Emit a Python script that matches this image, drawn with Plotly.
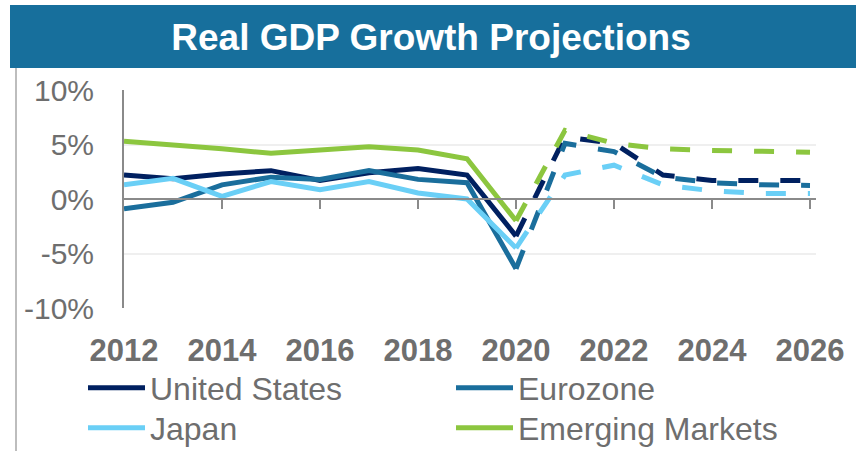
import plotly.graph_objects as go

# ---------------- data ----------------
years = [2012, 2013, 2014, 2015, 2016, 2017, 2018, 2019, 2020, 2021, 2022, 2023, 2024, 2025, 2026]
united_states = [2.2, 1.85, 2.3, 2.6, 1.7, 2.4, 2.8, 2.2, -3.4, 5.7, 5.1, 2.2, 1.7, 1.7, 1.7]
eurozone = [-0.9, -0.3, 1.3, 2.0, 1.8, 2.6, 1.8, 1.5, -6.4, 5.1, 4.35, 2.0, 1.5, 1.3, 1.25]
japan = [1.3, 1.9, 0.25, 1.6, 0.85, 1.6, 0.55, 0.0, -4.5, 2.2, 3.1, 1.3, 0.75, 0.5, 0.5]
emerging_markets = [5.3, 5.0, 4.6, 4.2, 4.5, 4.8, 4.5, 3.7, -2.0, 6.3, 5.1, 4.6, 4.45, 4.35, 4.3]
projection_start = 2020

series_names = ["United States", "Eurozone", "Japan", "Emerging Markets"]
series_values = [united_states, eurozone, japan, emerging_markets]
series_colors = ["#002060", "#1a6e9c", "#6acff6", "#8cc63f"]
legend_rows = ["legend", "legend", "legend2", "legend2"]

x_tick_vals = [2012, 2014, 2016, 2018, 2020, 2022, 2024, 2026]
x_tick_text = ["2012", "2014", "2016", "2018", "2020", "2022", "2024", "2026"]
y_tick_vals = [-10, -5, 0, 5, 10]
y_tick_text = ["-10%", "-5%", "0%", "5%", "10%"]
title_text = "Real GDP Growth Projections"

# ---------------- figure ----------------
W, H = 862, 451
fig = go.Figure()

split = years.index(projection_start)
for name, vals, col, lg in zip(series_names, series_values, series_colors, legend_rows):
    fig.add_trace(go.Scatter(
        x=years[:split + 1], y=vals[:split + 1], mode="lines", name=name,
        legendgroup=name, legend=lg, line=dict(color=col, width=5),
    ))
    fig.add_trace(go.Scatter(
        x=years[split:], y=vals[split:], mode="lines", name=name,
        legendgroup=name, legend=lg, showlegend=False,
        line=dict(color=col, width=5, dash="20px,22px"),
    ))

x_left, x_right, y_top, y_bot = 124, 816, 90, 308
xdom = [x_left / W, x_right / W]
ydom = [1 - y_bot / H, 1 - y_top / H]
xrange = [2012, 2012 + (x_right - x_left) / 49.0]

grey = "#6e6e6e"
axis_grey = "#8a8a8a"
font_family = "Liberation Sans, Arial, sans-serif"
legend_style = dict(orientation="h", x=83 / W, xanchor="left", yanchor="middle",
                    entrywidth=296, entrywidthmode="pixels", itemwidth=57,
                    font=dict(size=32, color=grey, family=font_family),
                    bgcolor="rgba(0,0,0,0)", tracegroupgap=0)

fig.update_layout(
    width=W, height=H,
    margin=dict(l=0, r=0, t=0, b=0, autoexpand=False),
    paper_bgcolor="white", plot_bgcolor="white",
    font=dict(family=font_family, color=grey),
    title=dict(text=f"<b>{title_text}</b>", x=0.5, xanchor="center",
               y=1 - 37 / H, yanchor="middle",
               font=dict(size=37, color="white", family=font_family)),
    xaxis=dict(domain=xdom, range=xrange, tickvals=x_tick_vals, ticktext=x_tick_text,
               showgrid=False, zeroline=False, showline=False, ticks="",
               tickfont=dict(size=31, color=grey, family=font_family, weight="bold"),
               ticklabelstandoff=21),
    xaxis2=dict(domain=xdom, range=xrange, overlaying="x", anchor="free",
                position=(ydom[0] + ydom[1]) / 2, tickvals=x_tick_vals[1:],
                showticklabels=False, ticks="outside", ticklen=9, tickwidth=2,
                tickcolor=axis_grey, showline=True, linecolor=axis_grey, linewidth=2,
                showgrid=False, zeroline=False),
    yaxis=dict(domain=ydom, range=[-10, 10], tickvals=y_tick_vals, ticktext=y_tick_text,
               showgrid=True, gridcolor="#efefef", gridwidth=2, zeroline=False,
               showline=True, linecolor=axis_grey, linewidth=2, ticks="",
               tickfont=dict(size=30, color=grey), ticklabelstandoff=22),
    legend=dict(y=1 - 388 / H, **legend_style),
    legend2=dict(y=1 - 428 / H, **legend_style),
    showlegend=True,
    shapes=[
        dict(type="rect", xref="paper", yref="paper", x0=10 / W, x1=856 / W,
             y0=1 - 68 / H, y1=1 - 5 / H, fillcolor="#176f9c", line=dict(width=0), layer="below"),
        dict(type="line", xref="paper", yref="paper", x0=16 / W, x1=16 / W,
             y0=0, y1=1 - 68 / H, line=dict(color="#bdbdbd", width=2)),
    ],
)

# dummy trace for xaxis2 so it renders
fig.add_trace(go.Scatter(x=[years[0]], y=[None], xaxis="x2", showlegend=False, hoverinfo="skip"))

fig.write_html("out.html", config={"displayModeBar": False},
               post_script="document.body.style.margin='0';document.body.style.overflow='hidden';")
